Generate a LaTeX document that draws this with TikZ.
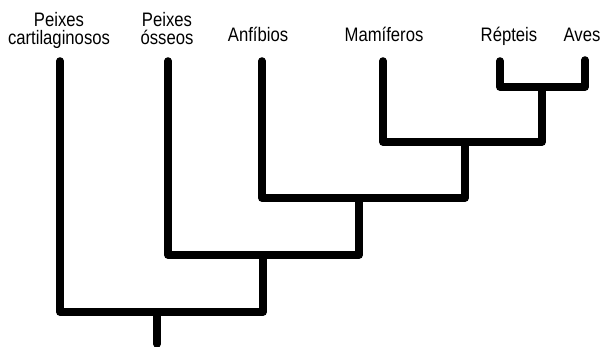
\documentclass[tikz,border=0pt]{standalone}
\usepackage{fontspec}
\setmainfont{Liberation Sans}[FakeStretch=0.855]
\begin{document}
\begin{tikzpicture}[x=1pt,y=-1pt,
  br/.style={line width=7.5pt, line cap=round, line join=round},
  lbl/.style={font=\fontsize{19.5}{18}\selectfont, align=center, inner sep=0pt, anchor=base}]
\useasboundingbox (0,0) rectangle (604,347);
% labels (base = baseline of the last line)
\node[lbl] (lc) at (59,45) {Peixes\\cartilaginosos};
\node[lbl] (lo) at (167,45) {Peixes\\ósseos};
\node[lbl] (la) at (258,42) {Anfíbios};
\node[lbl] (lm) at (384,42) {Mamíferos};
\node[lbl] (lr) at (509,42) {Répteis};
\node[lbl] (lv) at (582,42) {Aves};
% leaf tops
\coordinate (tC) at (60,61);
\coordinate (tO) at (168,61);
\coordinate (tAn) at (262,61);
\coordinate (tM) at (383,61);
\coordinate (tR) at (500,61);
\coordinate (tA) at (585,60);
% junctions
\coordinate (h5) at (542,87);
\coordinate (h4) at (465,142);
\coordinate (h3) at (359,198);
\coordinate (h2) at (263,255);
\coordinate (h1) at (157,312);
\coordinate (root) at (157,344);
% branches
\draw[br] (tR) -- (tR |- h5) -- (tA |- h5) -- (tA);
\draw[br] (tM) -- (tM |- h4) -- (h5 |- h4) -- (h5);
\draw[br] (tAn) -- (tAn |- h3) -- (h4 |- h3) -- (h4);
\draw[br] (tO) -- (tO |- h2) -- (h3 |- h2) -- (h3);
\draw[br] (tC) -- (tC |- h1) -- (h2 |- h1) -- (h2);
\draw[br] (h1) -- (root);
\end{tikzpicture}
\end{document}
